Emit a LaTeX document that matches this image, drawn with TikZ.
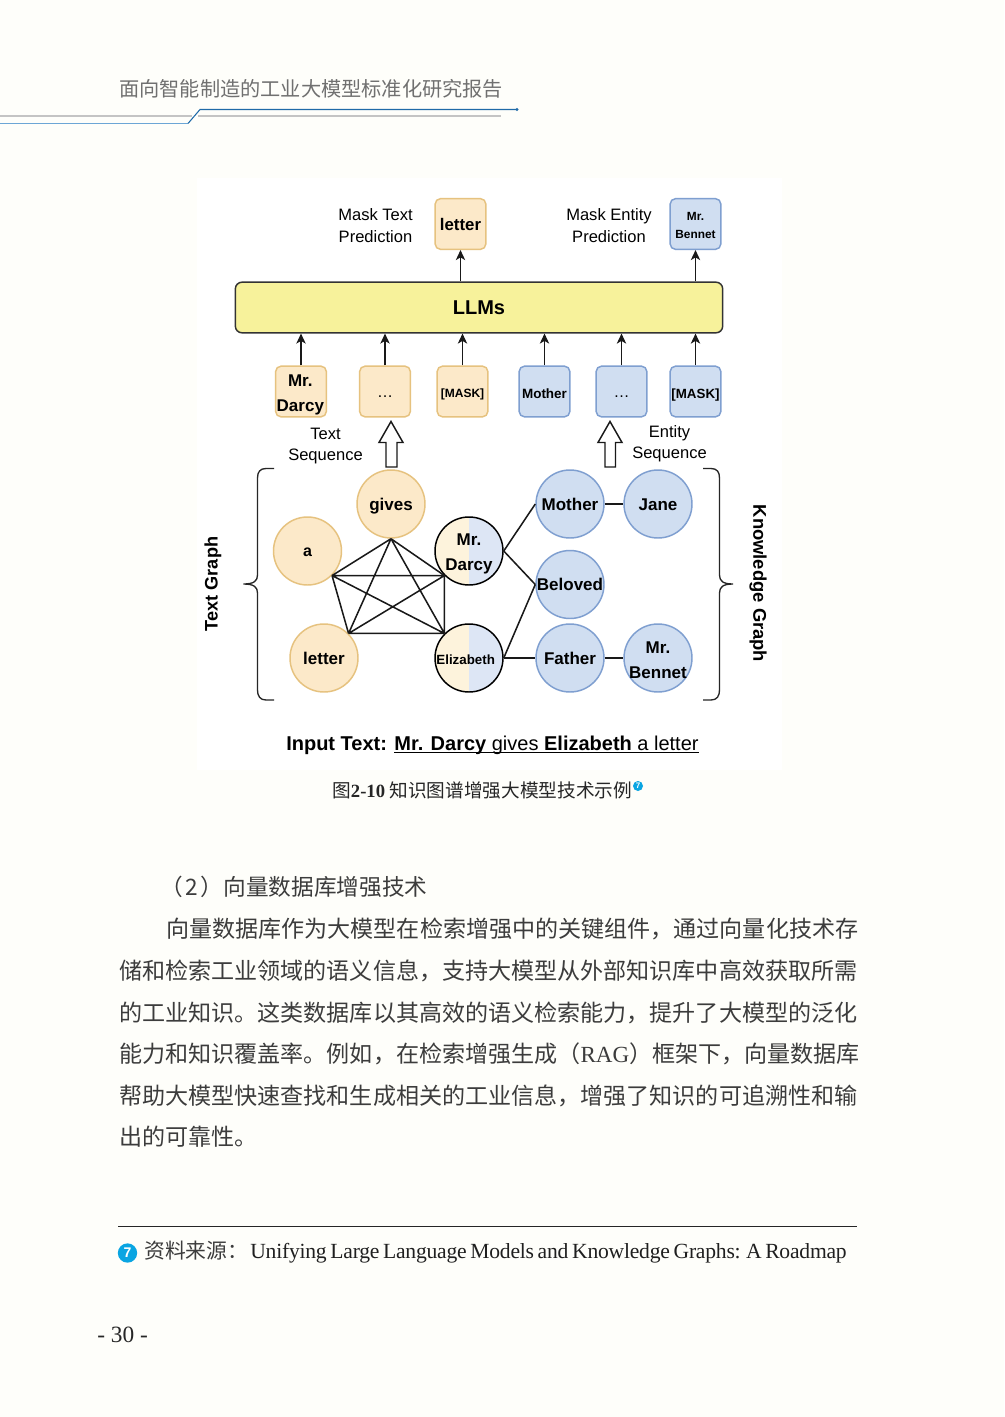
\documentclass[tikz,border=0pt]{standalone}
\usepackage{fontspec}
\setmainfont{Liberation Serif}
\setsansfont{Liberation Sans}
\newfontfamily\cjk{Noto Sans CJK SC}
\newfontfamily\fnserif[LetterSpace=-1.0,WordSpace=0.7]{Liberation Serif}
\usepackage{array}
\definecolor{pagebg}{HTML}{FEFEFA}
\definecolor{ofill}{HTML}{FCE9C9}
\definecolor{odraw}{HTML}{E6C27F}
\definecolor{bfill}{HTML}{D0DEF1}
\definecolor{bdraw}{HTML}{7F9FD0}
\definecolor{yfill}{HTML}{F7F29B}
\definecolor{halfo}{HTML}{FDF3DC}
\definecolor{halfb}{HTML}{DDE6F5}
\definecolor{bodyc}{HTML}{3C3C3C}
\definecolor{headc}{HTML}{707070}
\definecolor{cyanc}{HTML}{0AA5E2}
\definecolor{hgray}{HTML}{C4C4C4}
\definecolor{hlight}{HTML}{6CA6D6}
\definecolor{hdark}{HTML}{1F6AA8}
\newcommand{\ctr}[3][-3.75pt]{\makebox[0pt]{\smash{\raisebox{#1}{#2\begin{tabular}{@{}c@{}}#3\end{tabular}}}}}
\newcommand{\fnt}[2]{\fontsize{#1}{#2}\selectfont}
\usetikzlibrary{arrows.meta}
\tikzset{
  x=.75pt,y=-.75pt,
  orbox/.style={draw=odraw,fill=ofill,line width=1.1pt,rounded corners=4pt,minimum width=38pt,minimum height=38pt,inner sep=0pt},
  blbox/.style={draw=bdraw,fill=bfill,line width=1.1pt,rounded corners=4pt,minimum width=38pt,minimum height=38pt,inner sep=0pt},
  orcirc/.style={circle,draw=odraw,fill=ofill,line width=1.1pt,minimum size=51pt,inner sep=0pt},
  blcirc/.style={circle,draw=bdraw,fill=bfill,line width=1.1pt,minimum size=51pt,inner sep=0pt},
  halfcirc/.style={circle,draw=black,line width=1.1pt,minimum size=51pt,inner sep=0pt,
    path picture={\fill[halfo] (path picture bounding box.north west) rectangle (path picture bounding box.south);
                  \fill[halfb] (path picture bounding box.north) rectangle (path picture bounding box.south east);}},
  arr/.style={-{Stealth[length=7.5pt,width=7pt,inset=2pt]},line width=1.1pt,black!90},
  link/.style={line width=1.15pt,black!90},
  brace/.style={line width=1pt,black!85},
  hollow/.style={draw=black!90,fill=white,line width=1.1pt},
  plain/.style={inner sep=0pt,align=center},
  bodytext/.style={inner sep=0pt,anchor=base west,text=bodyc,font=\cjk\fnt{17.3}{20}},
}
\begin{document}
\begin{tikzpicture}
\useasboundingbox (0,0) rectangle (1004,1417);
\fill[pagebg] (0,0) rectangle (1004,1417);
\fill[white] (197,178) rectangle (782,770);

% header
\node[inner sep=0pt,anchor=base west,text=headc,font=\cjk\fnt{15.15}{17}] (hdr) at (119,96) {面向智能制造的工业大模型标准化研究报告};
\draw[hgray,line width=1.4pt] (0,116) -- (192,116) (198,116) -- (501,116);
\draw[hlight,line width=1.4pt] (0,123.5) -- (188,123.5);
\draw[hdark,line width=.8pt] (188,123.5) -- (200,109.5) -- (517,109.5);
\fill[hdark] (517,109.5) circle (1.3pt);

% top row
\node[orbox] (tletter) at (460.5,224) {\ctr{\sffamily\bfseries\fnt{12.6}{18.75}}{letter}};
\node[blbox] (tbennet) at (695.5,224) {\ctr[-3.75pt]{\sffamily\bfseries\fnt{8.9}{13.5}}{Mr.\\Bennet}};
\node[plain,font=\sffamily\fnt{12.4}{16.5}] (masktext) at (375.5,225.5) {Mask Text\\Prediction};
\node[plain,font=\sffamily\fnt{12.4}{16.5}] (maskent) at (609,225.5) {Mask Entity\\Prediction};

% LLMs
\node[draw=black!80,fill=yfill,line width=1.1pt,rounded corners=5pt,minimum width=365.5pt,minimum height=38pt,inner sep=0pt,font=\sffamily\bfseries\fnt{15}{18}] (llm) at (479,307.5) {LLMs};

% bottom row
\node[orbox] (b1) at (301,391.5) {\ctr[-4.75pt]{\sffamily\bfseries\fnt{12.75}{18.75}}{\kern-1pt Mr.\\\kern-1pt Darcy}};
\node[orbox] (b2) at (385,391.5) {\ctr{\sffamily\fnt{12}{18}}{…}};
\node[orbox] (b3) at (462.5,391.5) {\ctr[-4pt]{\sffamily\bfseries\fnt{9}{13}}{[MASK]}};
\node[blbox] (b4) at (544.5,391.5) {\ctr[-4.75pt]{\sffamily\bfseries\fnt{10.1}{15}}{Mother}};
\node[blbox] (b5) at (621.5,391.5) {\ctr{\sffamily\fnt{12}{18}}{…}};
\node[blbox] (b6) at (695.5,391.5) {\ctr[-4.5pt]{\sffamily\bfseries\fnt{10}{15}}{[MASK]}};

\draw[arr] (llm.north -| tletter.south) -- (tletter.south);
\draw[arr] (llm.north -| tbennet.south) -- (tbennet.south);
\foreach \b in {b1,b2,b3,b4,b5,b6}{
  \draw[arr] (\b.north) -- (llm.south -| \b.north);
}

% sequence labels and hollow arrows
\node[plain,font=\sffamily\fnt{12.4}{15.75}] (tseq) at (325.5,446) {Text\\Sequence};
\node[plain,font=\sffamily\fnt{12.4}{15.75}] (eseq) at (669.5,443.5) {Entity\\Sequence};
\draw[hollow] (391,421.5) -- (403,442.5) -- (397,442.5) -- (397,467) -- (386,467) -- (386,442.5) -- (379,442.5) -- cycle;
\draw[hollow] (610,421.5) -- (622,442.5) -- (615.5,442.5) -- (615.5,467) -- (605,467) -- (605,442.5) -- (598,442.5) -- cycle;

% graph nodes
\node[orcirc] (gives) at (391,504) {\ctr{\sffamily\bfseries\fnt{12.75}{18.75}}{gives}};
\node[orcirc] (na) at (307.5,551) {\ctr{\sffamily\bfseries\fnt{12}{18}}{a}};
\node[orcirc] (nletter) at (324,658) {\ctr{\sffamily\bfseries\fnt{12.75}{18.75}}{letter}};
\node[halfcirc] (darcy) at (469,551) {\ctr[-4.75pt]{\sffamily\bfseries\fnt{12.75}{18.75}}{Mr.\\Darcy}};
\node[halfcirc] (eliz) at (469,658) {\ctr[-4.25pt]{\sffamily\bfseries\fnt{10}{15}}{\kern-5pt Elizabeth}};
\node[blcirc] (mother) at (570,504) {\ctr{\sffamily\bfseries\fnt{12.75}{18.75}}{Mother}};
\node[blcirc] (jane) at (658,504) {\ctr{\sffamily\bfseries\fnt{12.75}{18.75}}{Jane}};
\node[blcirc] (beloved) at (570,584.5) {\ctr{\sffamily\bfseries\fnt{12.75}{18.75}}{Beloved}};
\node[blcirc] (father) at (570,658) {\ctr{\sffamily\bfseries\fnt{12.75}{18.75}}{Father}};
\node[blcirc] (bennet) at (658,658) {\ctr[-5.25pt]{\sffamily\bfseries\fnt{12.75}{18.75}}{Mr.\\Bennet}};

% graph links
\coordinate (pa) at (na.south east);
\coordinate (pg) at (gives.south);
\coordinate (pl) at (nletter.north east);
\coordinate (pd) at (darcy.south west);
\coordinate (pe) at (eliz.north west);
\draw[link] (pa) -- (pg) (pa) -- (pd) (pa) -- (pe) (pa) -- (pl)
            (pg) -- (pd) (pg) -- (pe) (pg) -- (pl)
            (pl) -- (pd) (pl) -- (pe) (pd) -- (pe);
\draw[link] (darcy.east) -- (mother.west);
\draw[link] (darcy.east) -- (beloved.west);
\draw[link] (eliz.east) -- (beloved.west);
\draw[link] (eliz.east) -- (father.west);
\draw[link] (mother.east) -- (jane.west);
\draw[link] (father.east) -- (bennet.west);

% braces
\draw[brace] (274,468.5) -- (266,468.5) .. controls (260,468.5) and (257.5,472) .. (257.5,478) -- (257.5,575) .. controls (257.5,581) and (254,584) .. (243.5,584) .. controls (254,584) and (257.5,587) .. (257.5,593) -- (257.5,690) .. controls (257.5,696) and (260,700) .. (266,700) -- (274,700);
\draw[brace] (703,468.5) -- (711,468.5) .. controls (717,468.5) and (719.5,472) .. (719.5,478) -- (719.5,575) .. controls (719.5,581) and (723,584) .. (733,584) .. controls (723,584) and (719.5,587) .. (719.5,593) -- (719.5,690) .. controls (719.5,696) and (717,700) .. (711,700) -- (703,700);

\node[plain,rotate=90,font=\sffamily\bfseries\fnt{13.6}{16}] (tg) at (213,584) {Text Graph};
\node[plain,rotate=-90,font=\sffamily\bfseries\fnt{13.8}{17}] (kg) at (758,583.5) {Knowledge Graph};

\node[inner sep=0pt,anchor=base west,font=\sffamily\fnt{15}{18}] (input) at (286,750) {\textbf{Input Text:} \underline{\smash{\textbf{Mr. Darcy} gives \textbf{Elizabeth} a letter}}};

% caption
\node[inner sep=0pt,anchor=base west,text=black!85,font=\cjk\fnt{14}{16}] (cap) at (332,797) {图{\rmfamily\bfseries 2-10} 知识图谱增强大模型技术示例};
\node[circle,fill=cyanc,minimum size=7.5pt,inner sep=0pt,text=white,font=\sffamily\bfseries\fnt{6}{7}] (capnote) at (638,786) {7};

% body
\node[bodytext,font=\cjk\fnt{17}{20}] (h2) at (160,895) {（\kern2pt 2\kern2pt）向量数据库增强技术};
\node[bodytext] (l1) at (166,937.5) {向量数据库作为大模型在检索增强中的关键组件，通过向量化技术存};
\node[bodytext] (l2) at (119,979.5) {储和检索工业领域的语义信息，支持大模型从外部知识库中高效获取所需};
\node[bodytext] (l3) at (119,1021.5) {的工业知识。这类数据库以其高效的语义检索能力，提升了大模型的泛化};
\node[bodytext] (l4) at (119,1062.5) {\hbox to 553.5pt{能力和知识覆盖率。例如，在检索增强生成\hfil（\hfil{\rmfamily RAG}\hfil）\hfil 框架下，向量数据库}};
\node[bodytext] (l5) at (119,1104.5) {帮助大模型快速查找和生成相关的工业信息，增强了知识的可追溯性和输};
\node[bodytext] (l6) at (119,1145.5) {出的可靠性。};

% footnote
\draw[black!85,line width=.6pt] (118,1226) -- (857,1226);
\node[circle,fill=cyanc,minimum size=14.5pt,inner sep=0pt,text=white,font=\sffamily\bfseries\fnt{10.5}{12}] (fnmark) at (127.5,1253) {7};
\node[inner sep=0pt,anchor=base west,text=bodyc,font=\cjk\fnt{15.6}{18}] (fnsrc) at (144,1258) {资料来源：};
\node[inner sep=0pt,anchor=base west,text=black!88,font=\fnserif\fnt{16.2}{18}] (fntxt) at (250,1258) {Unifying Large Language Models and Knowledge Graphs: A Roadmap};
\node[inner sep=0pt,anchor=base west,text=black!85,font=\rmfamily\fnt{17.5}{20}] (pg) at (97,1342) {- 30 -};
\end{tikzpicture}
\end{document}
